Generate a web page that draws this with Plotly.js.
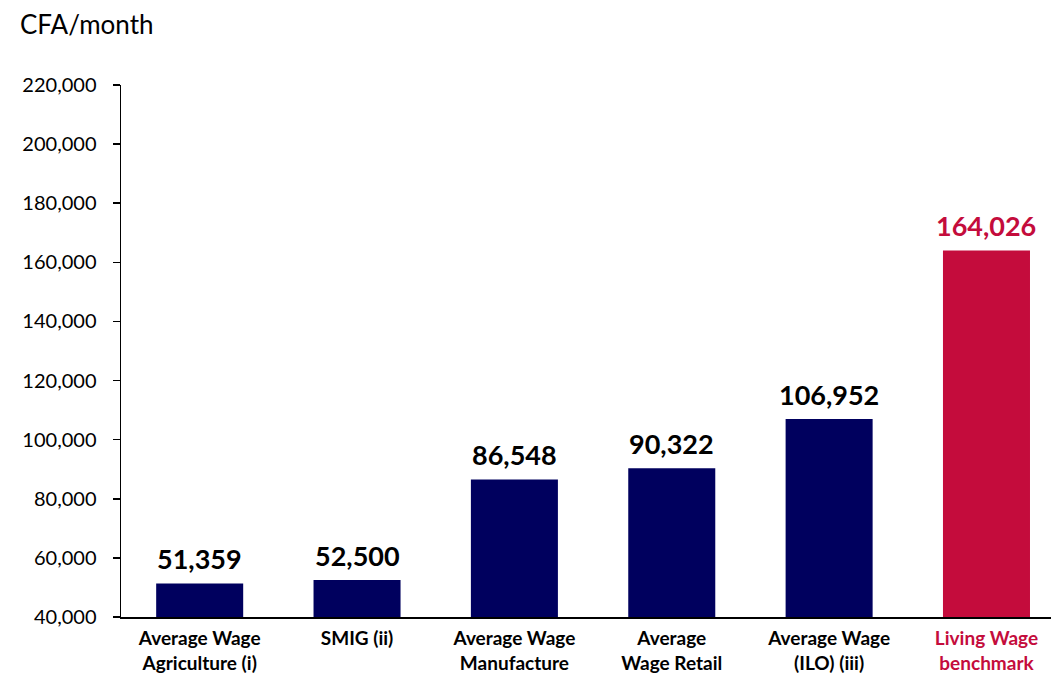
<!DOCTYPE html>
<html>
<head>
<meta charset="utf-8">
<script src="https://cdn.plot.ly/plotly-3.0.1.min.js"></script>
<style>html,body{margin:0;padding:0;background:#fff;overflow:hidden;}</style>
</head>
<body>
<div id="chart" style="width:1051px;height:673px;"></div>
<script>
const categories = ["Average Wage<br>Agriculture (i)", "SMIG (ii)", "Average Wage<br>Manufacture", "Average<br>Wage Retail", "Average Wage<br>(ILO) (iii)", "Living Wage<br>benchmark"];
const values = [51359, 52500, 86548, 90322, 106952, 164026];
const yTickVals = [40000, 60000, 80000, 100000, 120000, 140000, 160000, 180000, 200000, 220000];

const NAVY = "#00005E";
const RED = "#C40C3C";
const colors = values.map((v, i) => i === values.length - 1 ? RED : NAVY);
const idx = categories.map((c, i) => i);
const tickText = categories.map((c, i) => i === categories.length - 1 ? '<span style="color:' + RED + '">' + c + '</span>' : c);
const labels = values.map(v => v.toLocaleString('en-US'));

const trace = {
  type: 'bar',
  x: idx,
  y: values,
  base: 0,
  marker: {color: colors, line: {width: 0}},
  hoverinfo: 'none'
};

const valueAnnotations = idx.map(i => ({
  x: i, y: values[i], xref: 'x', yref: 'y',
  text: '<b>' + labels[i] + '</b>',
  showarrow: false, xanchor: 'center', yanchor: 'bottom', yshift: 6,
  font: {size: 27, color: i === values.length - 1 ? RED : '#000'}
}));

const layout = {
  width: 1051, height: 673,
  margin: {l: 121, r: 0, t: 85, b: 56, pad: 0},
  paper_bgcolor: '#fff', plot_bgcolor: '#fff',
  showlegend: false,
  bargap: 0.447,
  font: {family: 'Lato, sans-serif', color: '#000'},
  xaxis: {
    range: [-0.5, 5.41],
    tickvals: idx, ticktext: tickText,
    tickfont: {size: 19, weight: 'bold', color: '#000'},
    ticklabelstandoff: 4,
    showline: true, linecolor: '#000', linewidth: 1.5,
    ticks: '', showgrid: false, zeroline: false, automargin: false, fixedrange: true
  },
  yaxis: {
    range: [40000, 220000],
    tickvals: yTickVals,
    ticktext: yTickVals.map(v => v.toLocaleString('en-US')),
    tickfont: {size: 20, color: '#000'},
    showline: true, linecolor: '#000', linewidth: 1.5,
    ticks: 'outside', ticklen: 7, tickwidth: 1.5, tickcolor: '#000',
    ticklabelstandoff: 12,
    showgrid: false, zeroline: false, automargin: false, fixedrange: true
  },
  annotations: [{
    text: 'CFA/month', xref: 'paper', yref: 'paper',
    x: (18 - 121) / 930, y: 1 + 61/532, xanchor: 'left', yanchor: 'middle',
    showarrow: false, font: {size: 26, color: '#000'}
  }].concat(valueAnnotations)
};

Plotly.newPlot('chart', [trace], layout, {displayModeBar: false, staticPlot: true});
</script>
</body>
</html>
